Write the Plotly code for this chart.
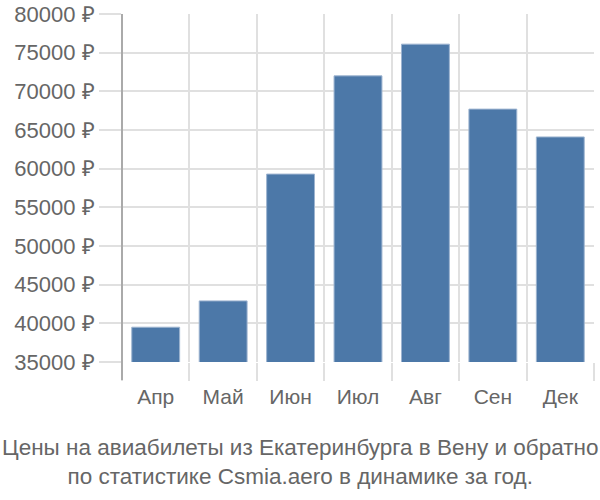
import plotly.graph_objects as go

months = ["Апр", "Май", "Июн", "Июл", "Авг", "Сен", "Дек"]
prices = [39500, 42900, 59300, 72000, 76100, 67700, 64100]
y_ticks = [35000, 40000, 45000, 50000, 55000, 60000, 65000, 70000, 75000, 80000]
y_tick_labels = [f"{v} ₽" for v in y_ticks]
title_lines = ["Цены на авиабилеты из Екатеринбурга в Вену и обратно",
               "по статистике Csmia.aero в динамике за год."]

FONT = "Liberation Sans, Arial, sans-serif"
GRID = "#e0e0e0"
TXT = "#666666"

fig = go.Figure()
fig.add_trace(go.Bar(
    x=list(range(len(months))), y=prices,
    marker=dict(color="#4c78a8", line=dict(color="#9db4d0", width=1)),
    width=0.71, base=0, xaxis="x", yaxis="y",
))
# invisible trace for boundary axis
fig.add_trace(go.Scatter(x=[-0.5, len(months) - 0.5], y=[35000, 35000], mode="markers",
                         marker=dict(opacity=0), xaxis="x2", yaxis="y", hoverinfo="skip",
                         showlegend=False))

fig.update_layout(
    width=600, height=500,
    margin=dict(l=122, r=6, t=14, b=138, autoexpand=False),
    plot_bgcolor="white", paper_bgcolor="white",
    showlegend=False,
    font=dict(family=FONT, color=TXT),
    xaxis=dict(
        automargin=False,
        range=[-0.5, len(months) - 0.5],
        tickmode="array", tickvals=list(range(len(months))), ticktext=months,
        ticks="outside", ticklen=16, tickcolor="rgba(0,0,0,0)",
        showgrid=False, zeroline=False, showline=False,
        tickfont=dict(size=21, color=TXT, family=FONT),
    ),
    xaxis2=dict(
        automargin=False,
        overlaying="x", range=[-0.5, len(months) - 0.5],
        tickmode="array", tickvals=[i - 0.5 for i in range(len(months) + 1)],
        showticklabels=False, ticks="outside", ticklen=18, tickcolor=GRID, tickwidth=2,
        showgrid=True, gridcolor=GRID, gridwidth=2, zeroline=False, showline=False,
    ),
    yaxis=dict(
        automargin=False,
        range=[35000, 80000],
        tickmode="array", tickvals=y_ticks, ticktext=y_tick_labels,
        ticks="outside", ticklen=22, tickcolor=GRID, tickwidth=2,
        showgrid=True, gridcolor=GRID, gridwidth=2, zeroline=False,
        showline=False,
        tickfont=dict(size=22, color=TXT, family=FONT),
    ),
    shapes=[dict(type="line", xref="paper", yref="paper", x0=0, x1=0, y0=1, y1=-18/348,
                 line=dict(color="#aaaaaa", width=2))],
    annotations=[dict(text="<br>".join(title_lines), xref="paper", yref="paper",
                      x=(300 - 122) / 472, y=-(462 - 362) / 348, xanchor="center", yanchor="middle",
                      showarrow=False, font=dict(size=22.5, color=TXT, family=FONT))],
)

fig.write_html("out.html")
